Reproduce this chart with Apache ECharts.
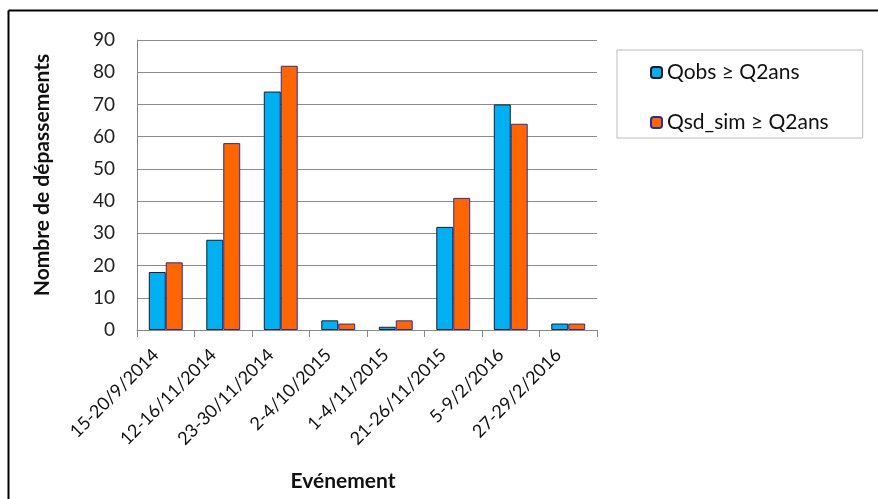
<!DOCTYPE html>
<html>
<head>
<meta charset="utf-8">
<script src="https://cdn.jsdelivr.net/npm/echarts@6/dist/echarts.min.js"></script>
<style>html,body{margin:0;padding:0;background:#fff}#c{width:878px;height:499px}</style>
</head>
<body>
<div id="c"></div>
<script>
var categories = ['15-20/9/2014','12-16/11/2014','23-30/11/2014','2-4/10/2015','1-4/11/2015','21-26/11/2015','5-9/2/2016','27-29/2/2016'];
var qobs = [18, 28, 74, 3, 1, 32, 70, 2];
var qsd = [21, 58, 82, 2, 3, 41, 64, 2];
var seriesNames = ['Qobs ≥ Q2ans', 'Qsd_sim ≥ Q2ans'];
var yTicks = {min: 0, max: 90, interval: 10};

var FONT = 'Lato';
var chart = echarts.init(document.getElementById('c'));
chart.setOption({
  animation: false,
  backgroundColor: '#fff',
  textStyle: {fontFamily: FONT},
  graphic: [
    {type: 'line', shape: {x1: 8.5, y1: 10.5, x2: 878, y2: 10.5}, style: {stroke: '#000', lineWidth: 2}},
    {type: 'line', shape: {x1: 8.5, y1: 10.5, x2: 8.5, y2: 499}, style: {stroke: '#000', lineWidth: 2}}
  ],
  grid: {left: 137, right: 281, top: 40, bottom: 169},
  legend: {
    orient: 'vertical', left: 617, top: 50,
    padding: [12, 34, 5, 33], itemGap: 29,
    itemWidth: 11, itemHeight: 11,
    borderColor: '#bbb', borderWidth: 1,
    textStyle: {fontFamily: FONT, fontSize: 21, color: '#111'},
    data: seriesNames
  },
  xAxis: {
    type: 'category', data: categories,
    name: 'Evénement', nameLocation: 'middle', nameGap: 141,
    nameTextStyle: {fontFamily: FONT, fontSize: 21, fontWeight: 'bold', color: '#111', padding: [0, 48, 0, 0]},
    axisLine: {lineStyle: {color: '#888'}},
    axisTick: {show: true, length: 7, lineStyle: {color: '#888'}},
    axisLabel: {rotate: 45, fontSize: 18, color: '#111', margin: 12, interval: 0, padding: [0, 14, 0, 0]}
  },
  yAxis: {
    type: 'value', min: yTicks.min, max: yTicks.max, interval: yTicks.interval,
    name: 'Nombre de dépassements', nameLocation: 'middle', nameGap: 84,
    nameTextStyle: {fontFamily: FONT, fontSize: 21, fontWeight: 'bold', color: '#111', padding: [0, 0, 0, 20]},
    axisLine: {show: true, lineStyle: {color: '#888'}},
    axisTick: {show: false},
    axisLabel: {fontSize: 19, color: '#222', margin: 22},
    splitLine: {lineStyle: {color: '#8c8c8c', width: 1}}
  },
  series: [
    {name: seriesNames[0], type: 'bar', data: qobs, barGap: '0%', barCategoryGap: '41%',
     itemStyle: {color: '#00B0F0', borderColor: '#1a1a2e', borderWidth: 1}},
    {name: seriesNames[1], type: 'bar', data: qsd,
     itemStyle: {color: '#FF6600', borderColor: '#2b2b9a', borderWidth: 1}}
  ]
});
</script>
</body>
</html>
